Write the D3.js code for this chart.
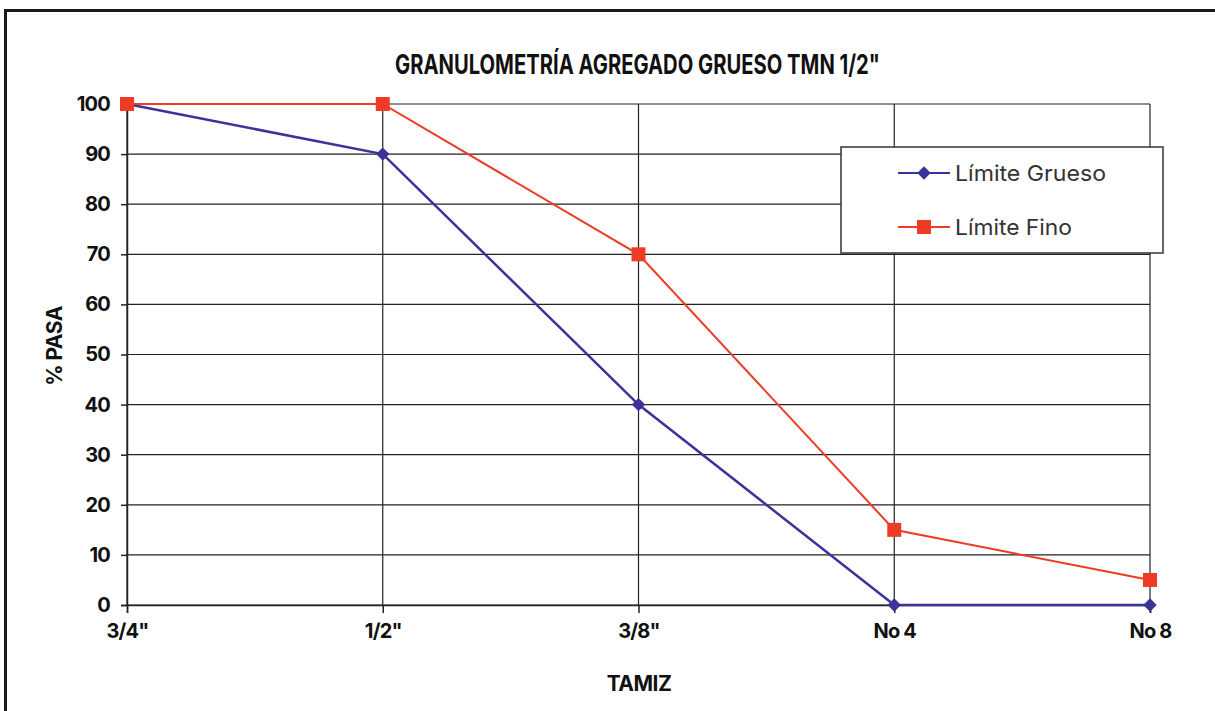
<!DOCTYPE html>
<html><head><meta charset="utf-8">
<script src="https://cdn.jsdelivr.net/npm/d3@7"></script>
<style>
html,body{margin:0;padding:0;background:#fff;}
svg text{font-family:Inter, Lato, sans-serif;}
</style></head>
<body>
<svg id="chart" width="1215" height="711"></svg>
<script>
const categories = ['3/4"', '1/2"', '3/8"', 'No 4', 'No 8'];
const limiteGrueso = [100, 90, 40, 0, 0];
const limiteFino = [100, 100, 70, 15, 5];
const yTicks = [0, 10, 20, 30, 40, 50, 60, 70, 80, 90, 100];
const seriesNames = ['Límite Grueso', 'Límite Fino'];
const title = 'GRANULOMETRÍA AGREGADO GRUESO TMN 1/2"';

const svg = d3.select('#chart');
const blue = '#3b3399', red = '#ee3b24';

// outer frame
svg.append('rect').attr('x', 5.5).attr('y', 10.5).attr('width', 1240).attr('height', 720)
  .attr('fill', '#fff').attr('stroke', '#1a1a1a').attr('stroke-width', 3);

const x = d3.scalePoint().domain(categories).range([127, 1150]);
const y = d3.scaleLinear().domain([0, 100]).range([605, 104]);

// grid
const g = svg.append('g');
g.selectAll('.hg').data(yTicks).join('line')
  .attr('x1', 127).attr('x2', 1150).attr('y1', d => y(d)).attr('y2', d => y(d))
  .attr('stroke', '#222').attr('stroke-width', 1.2);
g.selectAll('.vg').data(categories).join('line')
  .attr('x1', d => x(d)).attr('x2', d => x(d)).attr('y1', y(100)).attr('y2', y(0))
  .attr('stroke', '#222').attr('stroke-width', 1.2);

// axes
const yAxis = d3.axisLeft(y).tickValues(yTicks).tickSize(6).tickPadding(11);
const ya = svg.append('g').attr('transform', 'translate(127,0)').call(yAxis);
const xAxis = d3.axisBottom(x).tickSize(8).tickPadding(8);
const xa = svg.append('g').attr('transform', 'translate(0,605)').call(xAxis);
[ya, xa].forEach(a => {
  a.select('.domain').attr('stroke', '#222').attr('stroke-width', 1.5);
  a.selectAll('.tick line').attr('stroke', '#222').attr('stroke-width', 1.5);
  a.selectAll('.tick text').attr('fill', '#111').attr('font-size', 20).attr('font-weight', 700)
   .style('font-family', 'Inter, sans-serif').attr('letter-spacing', -0.8);
});
xa.selectAll('.tick text').attr('dy', '0.85em');

// lines and markers (blue first, red on top)
const line = d3.line().x((d, i) => x(categories[i])).y(d => y(d));
const sq = d3.symbol().type(d3.symbolSquare).size(196);
const dm = d3.symbol().type(d3.symbolSquare).size(90);

svg.append('path').datum(limiteGrueso).attr('d', line).attr('fill', 'none')
  .attr('stroke', blue).attr('stroke-width', 2.5);
svg.selectAll('.gm').data(limiteGrueso).join('path')
  .attr('d', dm).attr('fill', blue)
  .attr('transform', (d, i) => `translate(${x(categories[i])},${y(d)}) rotate(45)`);

svg.append('path').datum(limiteFino).attr('d', line).attr('fill', 'none')
  .attr('stroke', red).attr('stroke-width', 2);
svg.selectAll('.fm').data(limiteFino).join('path')
  .attr('d', sq).attr('fill', red)
  .attr('transform', (d, i) => `translate(${x(categories[i])},${y(d)})`);

// title
svg.append('text').attr('x', 395).attr('y', 74)
  .attr('font-size', 27).attr('font-weight', 700).attr('fill', '#111')
  .attr('textLength', 485).attr('lengthAdjust', 'spacingAndGlyphs').text(title);

// axis titles
svg.append('text').attr('transform', 'translate(62,346) rotate(-90)').attr('text-anchor', 'middle')
  .attr('font-size', 21).attr('font-weight', 700).attr('fill', '#111').attr('letter-spacing', -0.5).text('% PASA');
svg.append('text').attr('x', 639).attr('y', 691).attr('text-anchor', 'middle')
  .attr('font-size', 21).attr('font-weight', 700).attr('fill', '#111').attr('letter-spacing', -0.5).text('TAMIZ');

// legend
const lg = svg.append('g');
lg.append('rect').attr('x', 841).attr('y', 147).attr('width', 322).attr('height', 106)
  .attr('fill', '#fff').attr('stroke', '#333').attr('stroke-width', 1.5);
const rows = [
  {name: seriesNames[0], color: blue, sym: dm, rot: 45, yy: 173, len: 151},
  {name: seriesNames[1], color: red, sym: sq, rot: 0, yy: 227, len: 117}];
rows.forEach(r => {
  lg.append('line').attr('x1', 898).attr('x2', 950).attr('y1', r.yy).attr('y2', r.yy)
    .attr('stroke', r.color).attr('stroke-width', 2);
  lg.append('path').attr('d', r.sym).attr('fill', r.color).attr('transform', `translate(924,${r.yy}) rotate(${r.rot})`);
  lg.append('text').attr('x', 955).attr('y', r.yy).attr('dy', '0.36em')
    .attr('font-size', 22).attr('fill', '#333')
    .attr('textLength', r.len).attr('lengthAdjust', 'spacingAndGlyphs').text(r.name);
});
</script>
</body></html>
